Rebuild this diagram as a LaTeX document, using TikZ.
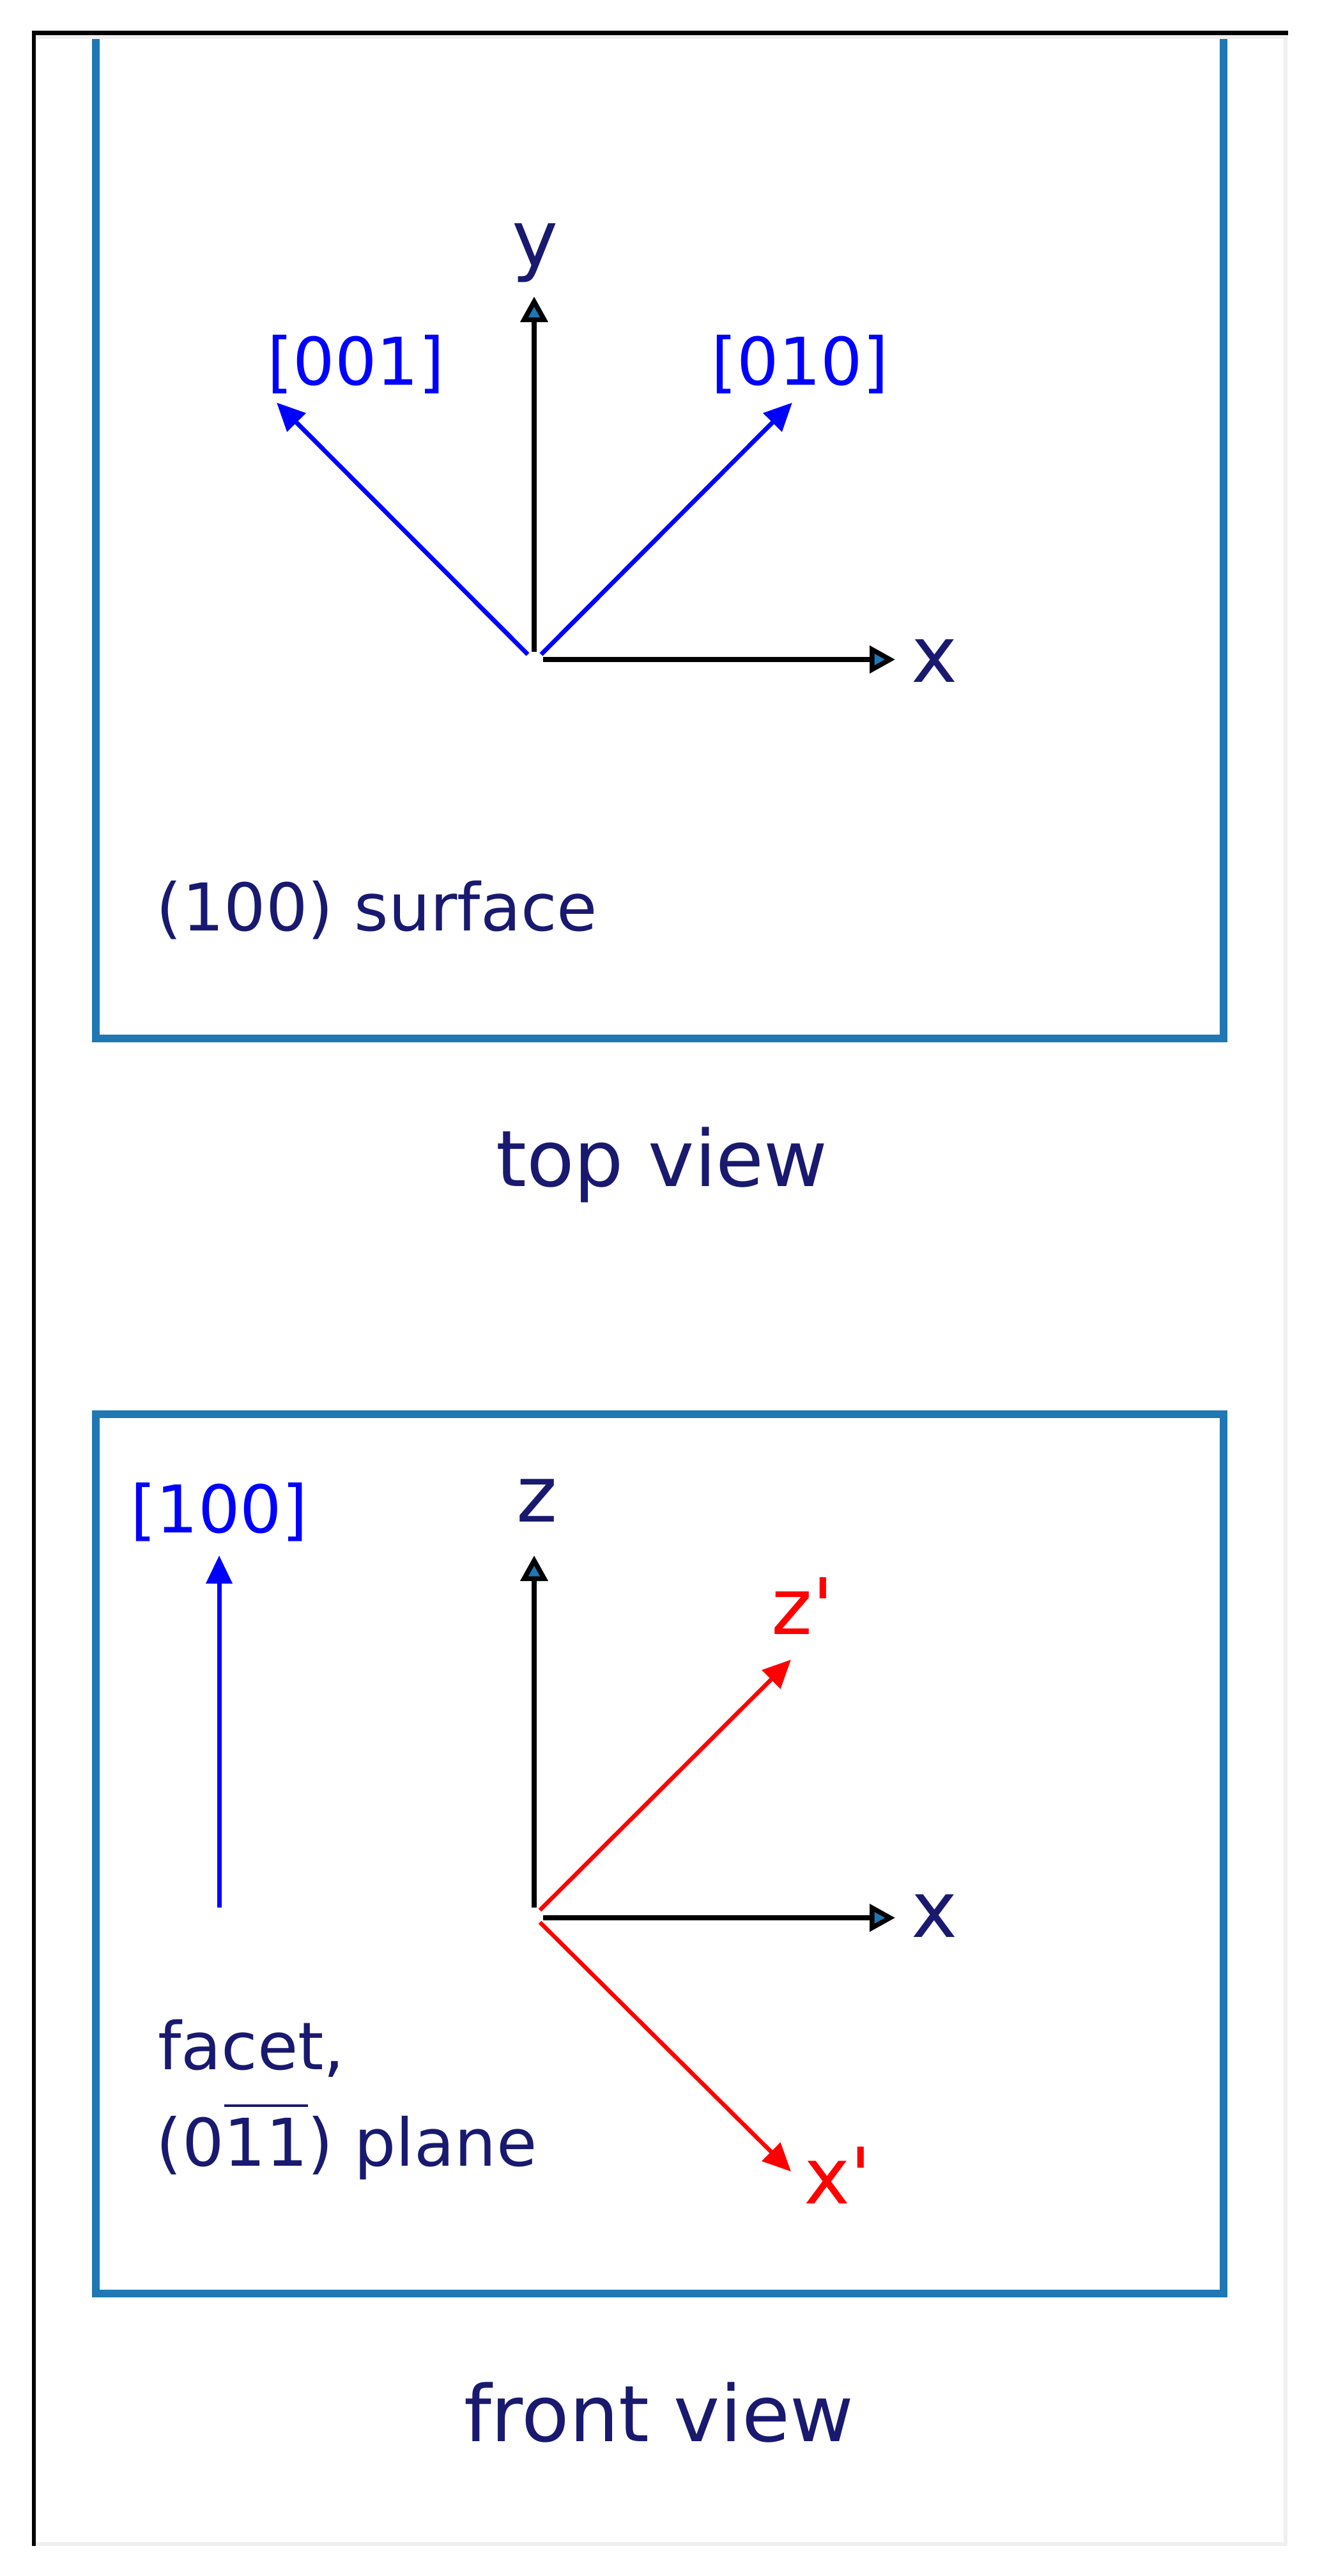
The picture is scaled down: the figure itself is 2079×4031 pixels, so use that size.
\documentclass[tikz,border=0pt]{standalone}
\usepackage{fontspec}
\setmainfont{DejaVu Sans}[Ligatures=TeXOff]
\usetikzlibrary{arrows.meta}
\definecolor{tabblue}{HTML}{1F77B4}
\definecolor{navy}{HTML}{191970}
\definecolor{framegray}{HTML}{EFEFEF}
\definecolor{pureblue}{HTML}{0000FF}
\definecolor{purered}{HTML}{FF0000}
\newsavebox\obox
\newcommand\myover[1]{\sbox\obox{#1}\rlap{\rule[0.89em]{\wd\obox}{0.045em}}\usebox\obox}
\begin{document}
\begin{tikzpicture}[x=0.1pt,y=-0.1pt,
  panel/.style={line width=1.2pt, draw=tabblue, line join=miter},
  axis/.style={line width=0.75pt, draw=black, -{Triangle[length=4.0pt,width=4.2pt,fill=tabblue]}},
  bluearrow/.style={line width=0.7pt, draw=pureblue, -{Triangle[length=4.4pt,width=4.0pt]}},
  redarrow/.style={line width=0.65pt, draw=purered, -{Triangle[length=4.4pt,width=4.0pt]}},
  small/.style={inner sep=0pt, font=\fontsize{10.3pt}{12pt}\selectfont},
  big/.style={inner sep=0pt, font=\fontsize{12.2pt}{14pt}\selectfont}]
\useasboundingbox (0,0) rectangle (2079,4031);
\fill[white] (0,0) rectangle (2079,4031);
% panels
\draw[panel] (150,50) -- (150,1625) -- (1915,1625) -- (1915,50);
\draw[panel] (150,2213) rectangle (1915,3589);
% outer frame
\fill[framegray] (56,55) rectangle (2016,61);
\fill[framegray] (2009,55) rectangle (2015,3984);
\fill[framegray] (56,3978) rectangle (2015,3984);
\fill[black] (51,48) rectangle (2016,55);
\fill[black] (50,48) rectangle (56,3984);
% ---- top view ----
\coordinate (ty0) at (836,1020);
\coordinate (ty1) at (836,464);
\coordinate (tx0) at (850,1032);
\coordinate (tx1) at (1401,1032);
\coordinate (a001s) at (826,1024);
\coordinate (a001e) at (433,630);
\coordinate (a010s) at (847,1024);
\coordinate (a010e) at (1240,630);
\draw[bluearrow] (a001s) -- (a001e);
\draw[bluearrow] (a010s) -- (a010e);
\draw[axis] (ty0) -- (ty1);
\draw[axis] (tx0) -- (tx1);
\node[big, text=navy, anchor=base] (ly) at (838,416) {y};
\node[big, text=navy, anchor=base] (lx) at (1463,1067) {x};
\node[small, text=pureblue, anchor=base] (l001) at (557,602) {[001]};
\node[small, text=pureblue, anchor=base] (l010) at (1252,602) {[010]};
\node[small, text=navy, anchor=base west] (lsurf) at (243,1456) {(100) surface};
\node[big, text=navy, anchor=base] (ltop) at (1036,1856) {top view};
% ---- front view ----
\coordinate (fz0) at (836,2985);
\coordinate (fz1) at (836,2434);
\coordinate (fx0) at (850,3001);
\coordinate (fx1) at (1401,3001);
\coordinate (f100s) at (343,2985);
\coordinate (f100e) at (343,2434);
\coordinate (zps) at (845,2989);
\coordinate (zpe) at (1238,2597);
\coordinate (xps) at (845,3008);
\coordinate (xpe) at (1238,3398);
\draw[bluearrow] (f100s) -- (f100e);
\draw[redarrow] (zps) -- (zpe);
\draw[redarrow] (xps) -- (xpe);
\draw[axis] (fz0) -- (fz1);
\draw[axis] (fx0) -- (fx1);
\node[small, text=pureblue, anchor=base] (l100) at (343,2398) {[100]};
\node[big, text=navy, anchor=base] (lz) at (841,2381) {z};
\node[big, text=navy, anchor=base] (lx2) at (1463,3031) {x};
\node[big, text=purered, anchor=base west] (lzp) at (1205,2557) {z'};
\node[big, text=purered, anchor=base west] (lxp) at (1256,3448) {x'};
\node[small, text=navy, anchor=base west] (lfacet) at (245,3238) {facet,};
\node[small, text=navy, anchor=base west] (lplane) at (243,3389) {(0\myover{11}) plane};
\node[big, text=navy, anchor=base] (lfront) at (1031,3820) {front view};
\end{tikzpicture}
\end{document}
